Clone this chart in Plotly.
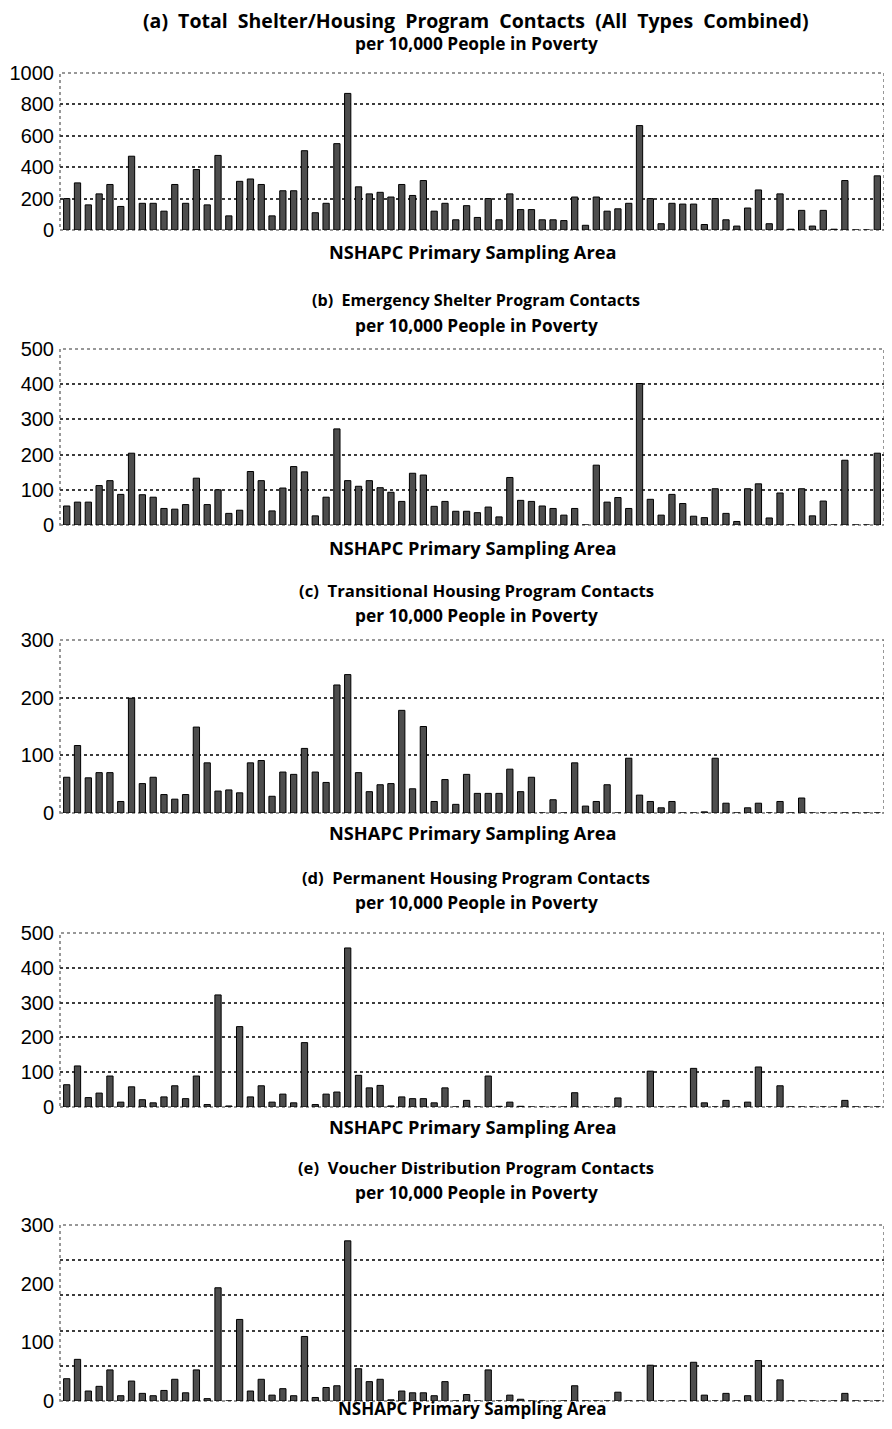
'''
    Five stacked bar charts of NSHAPC program contacts per 10,000 people
    in poverty, one bar per primary sampling area.
'''
import plotly.graph_objects as go
from plotly.subplots import make_subplots

# 76 primary sampling areas
psa = list(range(1, 77))

total_contacts = [200, 300, 160, 230, 290, 150, 470, 170, 170, 120,
                  290, 170, 385, 160, 475, 90, 310, 325, 290, 90,
                  250, 250, 505, 110, 170, 550, 870, 275, 230, 240,
                  210, 290, 220, 315, 120, 170, 65, 155, 80, 200,
                  65, 230, 130, 130, 65, 65, 60, 210, 30, 210,
                  120, 135, 170, 665, 200, 40, 170, 165, 165, 35,
                  200, 65, 25, 140, 255, 40, 230, 5, 125, 25,
                  125, 5, 315, 0, 0, 345]

emergency_shelter = [54, 65, 65, 112, 126, 87, 204, 86, 79, 47,
                     45, 58, 133, 58, 100, 33, 42, 152, 126, 40,
                     105, 166, 151, 26, 79, 273, 126, 110, 126, 106,
                     93, 67, 147, 142, 53, 67, 39, 39, 35, 51,
                     23, 135, 70, 67, 54, 47, 28, 47, 0, 170,
                     65, 78, 47, 402, 73, 28, 87, 61, 25, 21,
                     103, 33, 10, 103, 117, 20, 91, 0, 103, 26,
                     68, 0, 184, 0, 0, 204]

transitional_housing = [62, 117, 61, 70, 70, 20, 199, 51, 62, 32,
                        24, 32, 149, 87, 38, 40, 35, 87, 91, 29,
                        71, 67, 112, 71, 53, 222, 240, 70, 37, 49,
                        51, 178, 42, 150, 20, 58, 15, 67, 34, 34,
                        34, 76, 37, 62, 0, 23, 0, 87, 12, 20,
                        49, 0, 95, 31, 20, 9, 20, 0, 0, 2,
                        95, 17, 0, 9, 17, 0, 20, 0, 26, 0,
                        0, 0, 0, 0, 0, 0]

permanent_housing = [64, 118, 27, 40, 89, 14, 58, 21, 12, 29,
                     61, 24, 89, 7, 322, 3, 231, 29, 61, 14,
                     37, 12, 185, 7, 37, 43, 457, 91, 55, 62,
                     3, 29, 24, 24, 12, 55, 0, 19, 0, 89,
                     2, 14, 2, 0, 0, 0, 0, 41, 0, 0,
                     0, 26, 0, 0, 103, 0, 0, 0, 111, 12,
                     0, 19, 0, 14, 115, 0, 61, 0, 0, 0,
                     0, 0, 19, 0, 0, 0]

voucher_distribution = [38, 71, 17, 25, 53, 9, 34, 13, 9, 18,
                        37, 14, 53, 4, 193, 0, 139, 17, 37, 10,
                        21, 9, 110, 6, 23, 26, 273, 55, 33, 37,
                        2, 17, 14, 14, 9, 33, 0, 11, 0, 53,
                        0, 10, 3, 0, 0, 0, 0, 26, 0, 0,
                        0, 15, 0, 0, 61, 0, 0, 0, 66, 10,
                        0, 13, 0, 9, 69, 0, 36, 0, 0, 0,
                        0, 0, 13, 0, 0, 0]

S = '&nbsp;&nbsp;'
panels = [
    (S.join(['(a)', 'Total', 'Shelter/Housing', 'Program', 'Contacts', '(All', 'Types', 'Combined)']),
     total_contacts, 1000, [0, 200, 400, 600, 800, 1000], 19.5),
    ('(b)&nbsp; Emergency Shelter Program Contacts', emergency_shelter, 500, [0, 100, 200, 300, 400, 500], 16.1),
    ('(c)&nbsp; Transitional Housing Program Contacts', transitional_housing, 300, [0, 100, 200, 300], 16.7),
    ('(d)&nbsp; Permanent Housing Program Contacts', permanent_housing, 500, [0, 100, 200, 300, 400, 500], 16.6),
    ('(e)&nbsp; Voucher Distribution Program Contacts', voucher_distribution, 300, [0, 100, 200, 300], 16.6),
]

# the page adds an 8px body margin on every side, so the figure is
# sized to fit the window and everything is placed in window pixels
PAD = 8
W, H = 892 - 2 * PAD, 1429 - 2 * PAD
# window pixel layout of each panel: plot top, plot bottom, title line 1, x-title
rows_px = [(73, 230, 21, 252), (349, 525, 300, 548), (640, 813, 590, 833),
           (933, 1107, 877, 1127), (1225, 1401, 1167, 1408)]


def px_y(v):
    return 1 - (v - PAD) / H


def px_x(v):
    return (v - PAD) / W


fig = make_subplots(rows=5, cols=1)
grid_col = '#3c3c3c'

for i, (title, values, ymax, ticks, tsize) in enumerate(panels):
    r = i + 1
    top, bot, t1, xt = rows_px[i]
    fig.add_trace(go.Bar(
        x=psa, y=values,
        marker=dict(color='#4d4d4d', line=dict(color='black', width=1)),
        showlegend=False
    ), row=r, col=1)

    xa = 'xaxis' if r == 1 else f'xaxis{r}'
    ya = 'yaxis' if r == 1 else f'yaxis{r}'
    fig.layout[xa].update(
        domain=[px_x(60), 1.0], range=[0.38, 76.62],
        showticklabels=False, showgrid=False, zeroline=False, ticks='',
        automargin=False
    )
    yopts = dict(
        domain=[px_y(bot), px_y(top)], range=[0, ymax],
        tickvals=ticks, zeroline=False, ticks='', automargin=False,
        ticklabelstandoff=5,
        tickfont=dict(family='Liberation Sans', size=20, color='black'),
        showgrid=True, gridcolor=grid_col, griddash='dot', gridwidth=1.5
    )
    if r == 5:
        # the voucher chart has gridlines every 60 while labels step by 100
        yopts.update(showgrid=False,
                     minor=dict(tick0=0, dtick=60, showgrid=True, gridcolor=grid_col,
                                griddash='dot', gridwidth=1.5, ticks=''))
    fig.layout[ya].update(**yopts)

    # dotted frame round the plot area
    xr = 'x' if r == 1 else f'x{r}'
    yr = 'y' if r == 1 else f'y{r}'
    fig.add_shape(type='rect', xref=f'{xr} domain', yref=f'{yr} domain',
                  x0=0, x1=1, y0=0, y1=1, layer='below',
                  line=dict(color='#777777', width=1.5, dash='dot'))

    fig.add_annotation(text=f'<b>{title}</b>', x=px_x(476), y=px_y(t1),
                       xref='paper', yref='paper', showarrow=False,
                       xanchor='center', yanchor='middle',
                       font=dict(family='Open Sans', size=tsize, color='black'))
    fig.add_annotation(text='<b>per 10,000 People in Poverty</b>', x=px_x(476), y=px_y(t1 + 25 if r > 1 else 44),
                       xref='paper', yref='paper', showarrow=False,
                       xanchor='center', yanchor='middle',
                       font=dict(family='Open Sans', size=17.3, color='black'))
    fig.add_annotation(text='<b>NSHAPC Primary Sampling Area</b>', x=px_x(472), y=px_y(xt),
                       xref='paper', yref='paper', showarrow=False,
                       xanchor='center', yanchor='middle',
                       font=dict(family='Open Sans', size=18.2 if r < 5 else 17, color='black'))

fig.update_layout(
    width=W, height=H,
    margin=dict(l=0, r=0, t=0, b=0),
    paper_bgcolor='white', plot_bgcolor='white',
    bargap=0.42
)

fig.write_html('out.html')
